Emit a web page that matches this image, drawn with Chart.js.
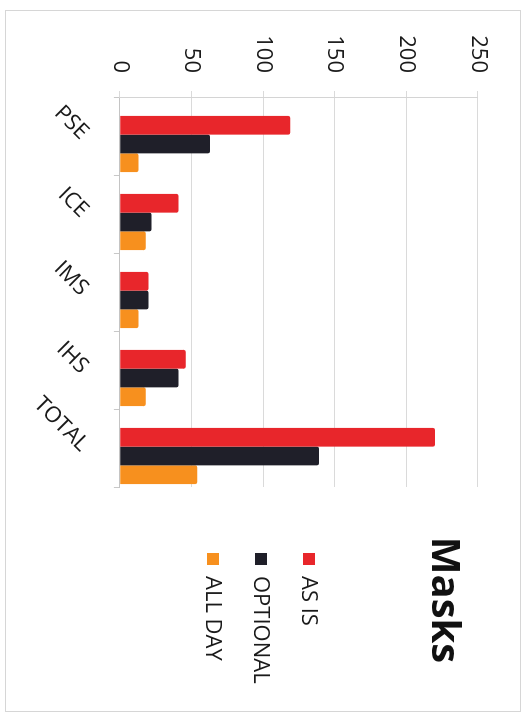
<!DOCTYPE html>
<html>
<head>
<meta charset="utf-8">
<title>Masks</title>
<script src="https://cdn.jsdelivr.net/npm/chart.js@4.4.1/dist/chart.umd.min.js"></script>
<style>
    html, body {
        margin: 0;
        padding: 0;
        background: #ffffff;
        overflow: hidden;
    }
    /* thin outline round the whole chart */
    #frame {
        position: absolute;
        left: 5px;
        top: 10px;
        width: 514px;
        height: 700px;
        border: 1px solid #d6d6d6;
    }
    /* the chart is laid out landscape and turned a quarter clockwise */
    #wrap {
        position: absolute;
        left: 0;
        top: 0;
        width: 713px;
        height: 527px;
        transform-origin: 0 0;
        transform: translate(527px, 0) rotate(90deg);
    }
</style>
</head>
<body>
<div id="frame"></div>
<div id="wrap">
    <canvas id="masksChart" width="713" height="527"></canvas>
</div>

<script>
// Groups and counts per option
const categories = ['PSE', 'ICE', 'IMS', 'IHS', 'TOTAL'];
const asIs = [119, 41, 20, 46, 220];
const optional = [63, 22, 20, 41, 139];
const allDay = [13, 18, 13, 18, 54];
const valueTicks = [0, 50, 100, 150, 200, 250];

const FONT = '"Open Sans", "DejaVu Sans", sans-serif';

const masksData = {
    labels: categories,
    datasets: [
        { label: 'AS IS', data: asIs, backgroundColor: '#e8262b' },
        { label: 'OPTIONAL', data: optional, backgroundColor: '#1f1f29' },
        { label: 'ALL DAY', data: allDay, backgroundColor: '#f7901e' }
    ]
};

// bars sit a little towards the back of each group, like a 3D column chart
const depthShift = {
    id: 'depthShift',
    beforeDatasetsDraw(chart) {
        chart.ctx.save();
        chart.ctx.translate(8, 0);
    },
    afterDatasetsDraw(chart) {
        chart.ctx.restore();
    }
};

// Title and key drawn in the space kept free on the right
const sideLegend = {
    id: 'sideLegend',
    afterDraw(chart) {
        const ctx = chart.ctx;
        ctx.save();
        ctx.fillStyle = '#111111';
        ctx.font = 'bold 40px ' + FONT;
        ctx.textAlign = 'center';
        ctx.textBaseline = 'middle';
        ctx.fillText('Masks', 600, 84);

        ctx.font = '22px ' + FONT;
        ctx.textAlign = 'left';
        chart.data.datasets.forEach((ds, i) => {
            const y = 218 + i * 48;
            ctx.fillStyle = ds.backgroundColor;
            ctx.fillRect(553, y - 6, 12, 12);
            ctx.fillStyle = '#1a1a1a';
            ctx.fillText(ds.label, 576, y + 1);
        });
        ctx.restore();
    }
};

const config = {
    type: 'bar',
    data: masksData,
    options: {
        responsive: false,
        animation: false,
        datasets: {
            bar: {
                categoryPercentage: 0.72,
                barPercentage: 1.0,
                borderRadius: 2
            }
        },
        layout: {
            padding: { left: 35, right: 226, top: 49, bottom: 8 }
        },
        scales: {
            x: {
                offset: true,
                grid: {
                    display: true,
                    drawOnChartArea: false,
                    drawTicks: true,
                    tickLength: 6,
                    offset: true,
                    color: '#c8c8c8'
                },
                border: { display: true, color: '#c4c4c4' },
                ticks: {
                    color: '#1a1a1a',
                    font: { family: FONT, size: 22 },
                    minRotation: 45,
                    maxRotation: 45,
                    padding: 20
                }
            },
            y: {
                min: valueTicks[0],
                max: valueTicks[valueTicks.length - 1],
                afterBuildTicks: (scale) => {
                    scale.ticks = valueTicks.map(v => ({ value: v }));
                },
                afterFit: (scale) => { scale.width = 62; },
                grid: {
                    color: '#dadada',
                    drawTicks: true,
                    tickLength: 6
                },
                border: { display: true, color: '#d4d4d4' },
                ticks: {
                    color: '#1a1a1a',
                    font: { family: FONT, size: 22 },
                    padding: 18
                }
            }
        },
        plugins: {
            legend: { display: false },
            tooltip: { enabled: false }
        }
    },
    plugins: [depthShift, sideLegend]
};

window.onload = function() {
    const ctx = document.getElementById('masksChart').getContext('2d');
    new Chart(ctx, config);
};
</script>
</body>
</html>
